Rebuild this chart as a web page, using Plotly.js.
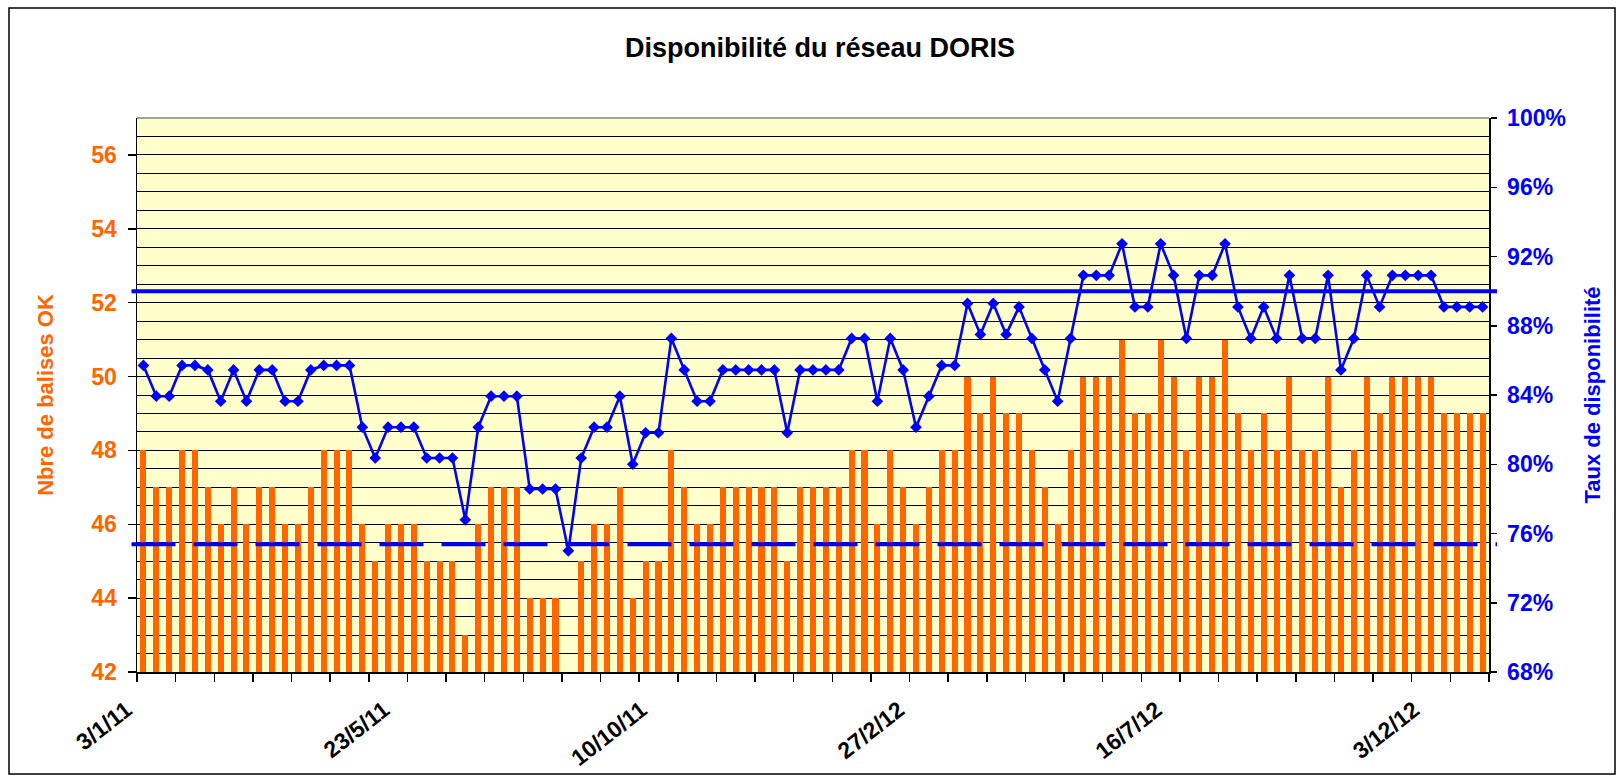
<!DOCTYPE html>
<html>
<head>
<meta charset="utf-8">
<script src="https://cdn.plot.ly/plotly-3.0.1.min.js"></script>
<style>
  html, body { margin: 0; padding: 0; background: #ffffff; }
  #chart { width: 1622px; height: 777px; }
</style>
</head>
<body>
<div id="chart"></div>
<script>
// ---------------- DATA ----------------
const startDate = '2011-01-03';            // first week (weekly series)
const tickLabels = ['3/1/11', '23/5/11', '10/10/11', '27/2/12', '16/7/12', '3/12/12'];

// Nbre de balises OK (left axis)
const nbBalises = [
  48, 47, 47, 48, 48, 47, 46, 47, 46, 47, 47, 46, 46, 47, 48, 48, 48, 46,
  45, 46, 46, 46, 45, 45, 45, 43, 46, 47, 47, 47, 44, 44, 44, 42, 45, 46,
  46, 47, 44, 45, 45, 48, 47, 46, 46, 47, 47, 47, 47, 47, 45, 47, 47, 47,
  47, 48, 48, 46, 48, 47, 46, 47, 48, 48, 50, 49, 50, 49, 49, 48, 47, 46,
  48, 50, 50, 50, 51, 49, 49, 51, 50, 48, 50, 50, 51, 49, 48, 49, 48, 50,
  48, 48, 50, 47, 48, 50, 49, 50, 50, 50, 50, 49, 49, 49, 49
];

// Taux de disponibilité en % (right axis)
const tauxDispo = [
  85.71, 83.93, 83.93, 85.71, 85.71, 85.45, 83.64, 85.45, 83.64, 85.45, 85.45, 83.64, 83.64, 85.45, 85.71, 85.71, 85.71, 82.14,
  80.36, 82.14, 82.14, 82.14, 80.36, 80.36, 80.36, 76.79, 82.14, 83.93, 83.93, 83.93, 78.57, 78.57, 78.57, 75.00, 80.36, 82.14,
  82.14, 83.93, 80.00, 81.82, 81.82, 87.27, 85.45, 83.64, 83.64, 85.45, 85.45, 85.45, 85.45, 85.45, 81.82, 85.45, 85.45, 85.45,
  85.45, 87.27, 87.27, 83.64, 87.27, 85.45, 82.14, 83.93, 85.71, 85.71, 89.29, 87.50, 89.29, 87.50, 89.09, 87.27, 85.45, 83.64,
  87.27, 90.91, 90.91, 90.91, 92.73, 89.09, 89.09, 92.73, 90.91, 87.27, 90.91, 90.91, 92.73, 89.09, 87.27, 89.09, 87.27, 90.91,
  87.27, 87.27, 90.91, 85.45, 87.27, 90.91, 89.09, 90.91, 90.91, 90.91, 90.91, 89.09, 89.09, 89.09, 89.09
];

const objectifTaux = [90];      // solid reference line (%)
const seuilTaux = [75.38];      // dashed reference line (%)

// ---------------- HELPERS ----------------
const weekIdx = nbBalises.map((_, i) => i);
const t0 = new Date(startDate + 'T00:00:00Z');
const weekDates = weekIdx.map(i => {
  const d = new Date(t0.getTime() + i * 7 * 86400000);
  return d.getUTCDate() + '/' + (d.getUTCMonth() + 1) + '/' + String(d.getUTCFullYear()).slice(2);
});
const tickVals = tickLabels.map(l => weekDates.indexOf(l));

const W = 1622, H = 777;
const PL = 137, PR = 1489, PT = 118, PB = 672;   // plot area in px
const px2x = p => (p - PL) / (PR - PL);
const px2y = p => (PB - p) / (PB - PT);

const FONT = 'Liberation Sans, Arial, sans-serif';
const ORANGE = '#FF6600', BLUE = '#0000FF';

// ---------------- TRACES ----------------
const bars = {
  type: 'bar',
  x: weekIdx,
  y: nbBalises,
  customdata: weekDates,
  hovertemplate: '%{customdata}: %{y}<extra></extra>',
  width: 0.47,
  marker: { color: ORANGE, line: { width: 0 } },
  yaxis: 'y',
  showlegend: false
};

const line = {
  type: 'scatter',
  mode: 'lines+markers',
  x: weekIdx,
  y: tauxDispo,
  customdata: weekDates,
  hovertemplate: '%{customdata}: %{y:.2f}%<extra></extra>',
  yaxis: 'y2',
  line: { color: BLUE, width: 2.6 },
  marker: { symbol: 'diamond', size: 9, color: BLUE },
  cliponaxis: false,
  showlegend: false
};

// ---------------- LAYOUT ----------------
const layout = {
  width: W, height: H,
  margin: { l: PL, r: W - PR, t: PT, b: H - PB, pad: 0 },
  paper_bgcolor: '#FFFFFF',
  plot_bgcolor: '#FFFFCC',
  showlegend: false,
  bargap: 0,
  title: {
    text: 'Disponibilité du réseau DORIS',
    font: { family: FONT, size: 27, color: '#000000', weight: 'bold' },
    xref: 'container', yref: 'container',
    x: 820 / W, y: 1 - 48 / H, xanchor: 'center', yanchor: 'middle'
  },
  xaxis: {
    range: [-0.5, nbBalises.length - 0.5],
    tickmode: 'array',
    tickvals: tickVals,
    ticktext: tickLabels,
    tickangle: -38,
    ticks: '',
    ticklabelstandoff: 14,
    ticklabelshift: -17,
    tickfont: { family: FONT, size: 23, color: '#000000', weight: 'bold' },
    minor: {
      tickmode: 'linear', tick0: -0.5, dtick: 3,
      ticks: 'outside', ticklen: 8, tickwidth: 1.5, tickcolor: '#000000',
      showgrid: false
    },
    showline: true, linecolor: '#000000', linewidth: 1.5,
    showgrid: false, zeroline: false,
    fixedrange: true
  },
  yaxis: {
    range: [42, 57],
    tickmode: 'linear', tick0: 42, dtick: 2,
    ticks: 'outside', ticklen: 8, tickwidth: 1.5, tickcolor: '#000000',
    ticklabelstandoff: 6,
    tickfont: { family: FONT, size: 23, color: ORANGE, weight: 'bold' },
    showline: true, linecolor: '#000000', linewidth: 1.5,
    showgrid: true, gridcolor: '#000000', gridwidth: 1,
    minor: { tick0: 42, dtick: 0.5, showgrid: true, gridcolor: '#000000', gridwidth: 1, ticks: '' },
    zeroline: false,
    title: {
      text: 'Nbre de balises OK',
      font: { family: FONT, size: 22, color: ORANGE, weight: 'bold' },
      standoff: 31
    },
    fixedrange: true
  },
  yaxis2: {
    overlaying: 'y', side: 'right',
    range: [68, 100],
    tickmode: 'linear', tick0: 68, dtick: 4,
    ticksuffix: '%',
    ticks: 'outside', ticklen: 6, tickwidth: 1.5, tickcolor: '#000000',
    ticklabelstandoff: 6,
    tickfont: { family: FONT, size: 23, color: BLUE, weight: 'bold' },
    showline: true, linecolor: '#000000', linewidth: 1.5,
    showgrid: false, zeroline: false,
    title: {
      text: 'Taux de disponibilité',
      font: { family: FONT, size: 22, color: BLUE, weight: 'bold' },
      standoff: 19
    },
    fixedrange: true
  },
  shapes: [
    // chart border
    { type: 'rect', xref: 'paper', yref: 'paper',
      x0: px2x(9), x1: px2x(1615), y0: px2y(774), y1: px2y(8),
      line: { color: '#000000', width: 1.5 }, fillcolor: 'rgba(0,0,0,0)', layer: 'above' },
    // plot area top border
    { type: 'line', xref: 'paper', yref: 'paper', x0: 0, x1: 1, y0: 1, y1: 1,
      line: { color: '#808080', width: 1.5 }, layer: 'above' },
    // target availability line
    { type: 'line', xref: 'paper', yref: 'y2', x0: px2x(131.5), x1: px2x(1497),
      y0: objectifTaux[0], y1: objectifTaux[0],
      line: { color: BLUE, width: 4 }, layer: 'above' },
    // dashed threshold line
    { type: 'line', xref: 'paper', yref: 'y2', x0: px2x(131.5), x1: px2x(1497),
      y0: seuilTaux[0], y1: seuilTaux[0],
      line: { color: BLUE, width: 4, dash: '44px,18px' }, layer: 'above' }
  ]
};

Plotly.newPlot('chart', [bars, line], layout, { displayModeBar: false, staticPlot: true });
</script>
</body>
</html>
